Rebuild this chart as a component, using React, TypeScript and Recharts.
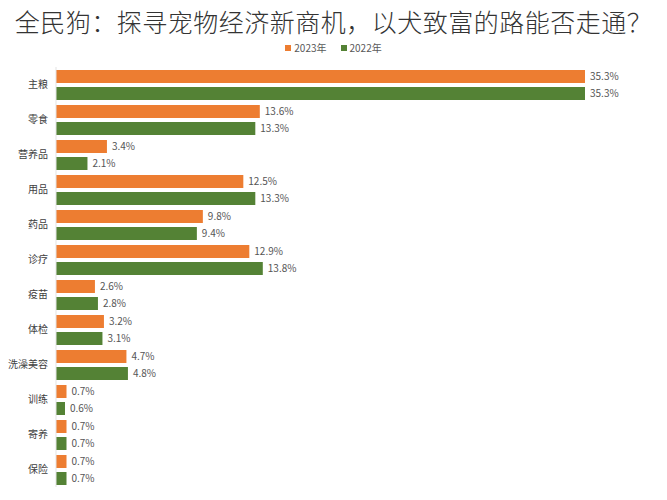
import { BarChart, Bar, XAxis, YAxis, LabelList } from "recharts";

const categories = ["主粮", "零食", "营养品", "用品", "药品", "诊疗", "疫苗", "体检", "洗澡美容", "训练", "寄养", "保险"];
const share2023 = [35.3, 13.6, 3.4, 12.5, 9.8, 12.9, 2.6, 3.2, 4.7, 0.7, 0.7, 0.7];
const share2022 = [35.3, 13.3, 2.1, 13.3, 9.4, 13.8, 2.8, 3.1, 4.8, 0.6, 0.7, 0.7];
const seriesNames = ["2023年", "2022年"];
const seriesColors = ["#ED7D31", "#548235"];

const data = categories.map((name, i) => ({
  name,
  y2023: share2023[i],
  y2022: share2022[i],
}));

const FONT = '"Noto Sans CJK SC", "Noto Sans", sans-serif';

const App = () => {
  return (
    <div style={{ position: "absolute", left: 0, top: 0, width: 667, height: 500, background: "#fff", fontFamily: FONT }}>
      <div
        style={{
          position: "absolute",
          left: 0,
          top: 3,
          width: 667,
          textAlign: "center",
          fontSize: 25,
          fontWeight: 300,
          color: "#333",
          letterSpacing: 0.5,
          whiteSpace: "nowrap",
        }}
      >
        全民狗：探寻宠物经济新商机，以犬致富的路能否走通？
      </div>
      <div
        style={{
          position: "absolute",
          left: 0,
          top: 40,
          width: 667,
          display: "flex",
          justifyContent: "center",
          gap: 14,
          fontSize: 10,
          color: "#595959",
          zIndex: 2,
        }}
      >
        {seriesNames.map((n, i) => (
          <span key={n} style={{ display: "flex", alignItems: "center" }}>
            <span style={{ width: 6, height: 6, background: seriesColors[i], marginRight: 3, display: "inline-block" }} />
            {n}
          </span>
        ))}
      </div>
      <BarChart
        width={667}
        height={500}
        data={data}
        layout="vertical"
        margin={{ top: 67, right: 82, bottom: 13, left: 0 }}
        barSize={13}
        barGap={4}
      >
        <XAxis type="number" hide domain={[0, 35.3]} />
        <YAxis
          type="category"
          dataKey="name"
          width={56}
          tickLine={false}
          axisLine={{ stroke: "#e3e3e3" }}
          tick={{ fontSize: 10, fill: "#404040", fontFamily: FONT }}
        />
        <Bar dataKey="y2023" name={seriesNames[0]} fill={seriesColors[0]} isAnimationActive={false}>
          <LabelList dataKey="y2023" position="right" offset={5} fontSize={10} fill="#555" formatter={(v: number) => `${v}%`} />
        </Bar>
        <Bar dataKey="y2022" name={seriesNames[1]} fill={seriesColors[1]} isAnimationActive={false}>
          <LabelList dataKey="y2022" position="right" offset={5} fontSize={10} fill="#555" formatter={(v: number) => `${v}%`} />
        </Bar>
      </BarChart>
    </div>
  );
};

export default App;
